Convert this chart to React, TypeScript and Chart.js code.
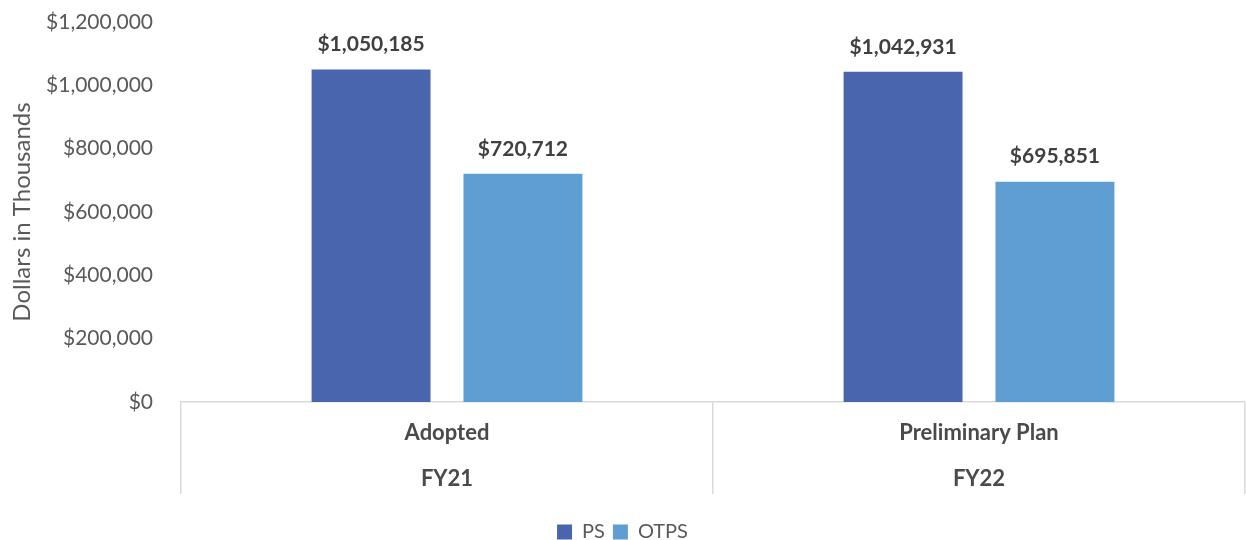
import React, { useEffect, useRef } from "react";
import { Chart, registerables } from "chart.js";

Chart.register(...registerables);

const categories: string[][] = [
  ["Adopted", "FY21"],
  ["Preliminary Plan", "FY22"],
];
const psValues: number[] = [1050185, 1042931];
const otpsValues: number[] = [720712, 695851];
const seriesNames: string[] = ["PS", "OTPS"];
const yTicksMax = 1200000;
const yTickStep = 200000;

const FONT = "Lato, 'Open Sans', sans-serif";
const fmt = (v: number) => "$" + v.toLocaleString("en-US");

const dataLabelPlugin = {
  id: "dataLabels",
  afterDatasetsDraw(chart: any) {
    const ctx = chart.ctx;
    ctx.save();
    ctx.font = `bold 21px ${FONT}`;
    ctx.fillStyle = "#404040";
    ctx.textAlign = "center";
    ctx.textBaseline = "middle";
    chart.data.datasets.forEach((ds: any, di: number) => {
      const meta = chart.getDatasetMeta(di);
      meta.data.forEach((bar: any, i: number) => {
        ctx.fillText(fmt(ds.data[i]), bar.x, bar.y - 25);
      });
    });
    ctx.restore();
  },
};

export default function App() {
  const ref = useRef<HTMLCanvasElement | null>(null);
  useEffect(() => {
    document.body.style.margin = "0";
    const chart = new Chart(ref.current as HTMLCanvasElement, {
      type: "bar",
      data: {
        labels: categories as any,
        datasets: [
          {
            label: seriesNames[0],
            data: psValues,
            backgroundColor: "#4865ae",
            categoryPercentage: 0.571,
            barPercentage: 0.783,
          },
          {
            label: seriesNames[1],
            data: otpsValues,
            backgroundColor: "#5f9ed3",
            categoryPercentage: 0.571,
            barPercentage: 0.783,
          },
        ],
      },
      options: {
        responsive: false,
        animation: false,
        layout: { padding: { top: 22, right: 1, bottom: -12, left: 0 } },
        plugins: {
          tooltip: { enabled: false },
          legend: {
            position: "bottom",
            labels: {
              boxWidth: 15,
              boxHeight: 15,
              padding: 8,
              color: "#595959",
              font: { family: FONT, size: 20 },
            },
          },
        },
        scales: {
          x: {
            afterFit: (s: any) => {
              s.height = 112;
            },
            border: { display: true, color: "#d9d9d9", width: 1.5 },
            grid: {
              display: true,
              offset: true,
              drawOnChartArea: false,
              drawTicks: true,
              tickLength: 92,
              color: "#d9d9d9",
              lineWidth: 1.5,
            },
            ticks: {
              padding: -84,
              color: "#4a4a4a",
              font: { family: FONT, size: 22, weight: 700, lineHeight: 2.09 },
              maxRotation: 0,
              autoSkip: false,
            },
          },
          y: {
            min: 0,
            max: yTicksMax,
            afterFit: (s: any) => {
              s.width = 181;
            },
            border: { display: false },
            grid: { display: false, drawTicks: true, tickLength: 24 },
            ticks: {
              stepSize: yTickStep,
              padding: 4,
              color: "#595959",
              font: { family: FONT, size: 21 },
              callback: (v: any) => fmt(Number(v)),
            },
            title: {
              display: true,
              text: "Dollars in Thousands",
              color: "#595959",
              font: { family: FONT, size: 24 },
              padding: { top: 8, bottom: 4 },
            },
          },
        },
      } as any,
      plugins: [dataLabelPlugin],
    });
    return () => chart.destroy();
  }, []);
  return (
    <div style={{ width: 1246, height: 540 }}>
      <canvas ref={ref} width={1246} height={540} style={{ display: "block" }} />
    </div>
  );
}
